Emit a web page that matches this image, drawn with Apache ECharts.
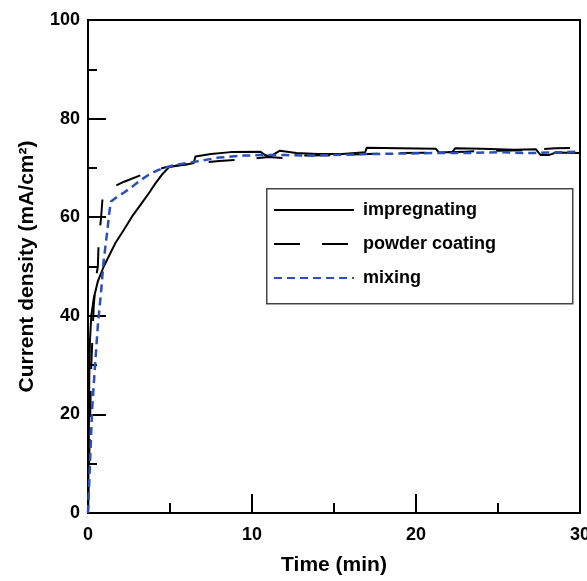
<!DOCTYPE html>
<html>
<head>
<meta charset="utf-8">
<script src="https://cdn.jsdelivr.net/npm/echarts@6/dist/echarts.min.js"></script>
<style>
html,body{margin:0;padding:0;background:#fff;}
#chart{width:587px;height:581px;}
</style>
</head>
<body>
<div id="chart"></div>
<script>
// Series data (time in min, current density in mA/cm2)
const seriesNames = ['impregnating', 'powder coating', 'mixing'];

const impregX = [0, 0.05, 0.08, 0.12, 0.2, 0.35, 0.6, 0.96, 1.66, 2.2, 2.68, 3.2, 3.7, 4.1, 4.5, 4.96, 5.5, 6.0, 6.45, 6.55, 7.5, 8.7, 10.5, 10.8, 11.1, 11.7, 12.7, 14.0, 15.5, 16.9, 17.0, 19.0, 21.2, 21.4, 22.2, 22.4, 24.0, 26.0, 27.3, 27.6, 28.1, 28.5, 30];
const impregY = [0, 15, 28, 35, 40, 43.5, 47, 50, 54.7, 57.5, 60.1, 62.5, 64.8, 66.8, 68.6, 70.2, 70.5, 70.7, 71.0, 72.3, 72.8, 73.2, 73.3, 72.6, 72.3, 73.5, 73.0, 72.8, 72.8, 73.2, 74.1, 74.0, 73.9, 73.1, 73.2, 74.0, 73.9, 73.7, 73.8, 72.6, 72.6, 73.1, 73.0];

const powderX = [0, 0.1, 0.2, 0.35, 0.5, 0.6, 0.65, 0.8, 0.9, 1.0, 2.2, 3.5, 4.8, 6.4, 8.0, 9.5, 11.0, 12.0, 13.0, 15.0, 17.0, 19.0, 21.0, 23.0, 25.0, 27.0, 28.5, 30];
const powderY = [0, 15, 30, 42, 48, 50, 55, 60, 64.5, 65.3, 67.2, 68.9, 70.2, 70.9, 71.4, 71.7, 72.2, 72.0, 72.5, 72.6, 72.8, 73.0, 73.1, 73.3, 73.5, 73.6, 74.0, 74.1];

const mixingX = [0, 0.12, 0.25, 0.45, 0.6, 0.8, 0.95, 1.16, 1.3, 1.4, 1.8, 2.2, 2.7, 3.2, 3.7, 4.3, 5.3, 6.6, 8.0, 9.5, 10.5, 12.0, 13.5, 15.0, 17.0, 19.0, 21.0, 23.0, 25.0, 27.0, 28.0, 30];
const mixingY = [0, 10, 21, 31, 38, 45, 51, 56.7, 61, 63.2, 64.2, 65, 66.2, 67.5, 68.6, 69.6, 70.6, 71.3, 72.1, 72.5, 72.6, 72.6, 72.5, 72.6, 72.8, 72.9, 73.0, 73.0, 73.2, 73.0, 73.1, 73.3];

const xTicks = [0, 10, 20, 30];
const yTicks = [0, 20, 40, 60, 80, 100];

function pairs(xs, ys) { return xs.map((x, i) => [x, ys[i]]); }

const FONT = "'Liberation Sans', Arial, Helvetica, sans-serif";
const chart = echarts.init(document.getElementById('chart'), null, {renderer: 'canvas'});

chart.setOption({
  animation: false,
  backgroundColor: '#fff',
  grid: {
    left: 88, right: 7, top: 20, bottom: 68,
    show: true, borderColor: '#000', borderWidth: 2,
    containLabel: false, outerBoundsMode: 'none'
  },
  xAxis: {
    type: 'value',
    min: xTicks[0], max: xTicks[xTicks.length - 1], interval: 10,
    name: 'Time (min)', nameLocation: 'middle', nameGap: 42,
    nameTextStyle: {fontFamily: FONT, fontWeight: 'bold', fontSize: 21, color: '#000'},
    axisLine: {show: true, lineStyle: {color: '#000', width: 2}},
    axisTick: {show: true, inside: true, length: 19, lineStyle: {color: '#000', width: 2}},
    minorTick: {show: true, splitNumber: 2, length: 10, lineStyle: {color: '#000', width: 2}},
    axisLabel: {margin: 13, fontFamily: FONT, fontWeight: 'bold', fontSize: 18, color: '#000'},
    splitLine: {show: false}
  },
  yAxis: {
    type: 'value',
    min: yTicks[0], max: yTicks[yTicks.length - 1], interval: 20,
    name: 'Current density (mA/cm²)', nameLocation: 'middle', nameGap: 50,
    nameTextStyle: {fontFamily: FONT, fontWeight: 'bold', fontSize: 21, color: '#000'},
    axisLine: {show: true, lineStyle: {color: '#000', width: 2}},
    axisTick: {show: true, inside: true, length: 18, lineStyle: {color: '#000', width: 2}},
    minorTick: {show: true, splitNumber: 2, length: 9, lineStyle: {color: '#000', width: 2}},
    axisLabel: {margin: 8, fontFamily: FONT, fontWeight: 'bold', fontSize: 18, color: '#000'},
    splitLine: {show: false}
  },
  legend: {
    orient: 'vertical',
    left: 273, top: 201, padding: 0,
    itemWidth: 80, itemHeight: 14, itemGap: 16,
    data: seriesNames,
    itemStyle: {opacity: 0, borderWidth: 0},
    textStyle: {fontFamily: FONT, fontWeight: 'bold', fontSize: 18, color: '#000', padding: [0, 0, 0, 4]}
  },
  graphic: [{
    type: 'rect', left: 266, top: 188, z: 0,
    shape: {width: 306, height: 115},
    style: {fill: '#fff', stroke: '#444', lineWidth: 1.5}
  }],
  series: [
    {
      name: seriesNames[0], type: 'line', data: pairs(impregX, impregY),
      showSymbol: false, symbol: 'none', z: 3,
      lineStyle: {color: '#000', width: 2, type: 'solid'}, itemStyle: {color: '#000'}
    },
    {
      name: seriesNames[1], type: 'line', data: pairs(powderX, powderY),
      showSymbol: false, symbol: 'none', z: 3,
      lineStyle: {color: '#000', width: 2, type: [26, 22]}, itemStyle: {color: '#000'}
    },
    {
      name: seriesNames[2], type: 'line', data: pairs(mixingX, mixingY),
      showSymbol: false, symbol: 'none', z: 4,
      lineStyle: {color: '#2a4fb8', width: 2.5, type: [8, 5]}, itemStyle: {color: '#2a4fb8'}
    }
  ]
});
</script>
</body>
</html>
